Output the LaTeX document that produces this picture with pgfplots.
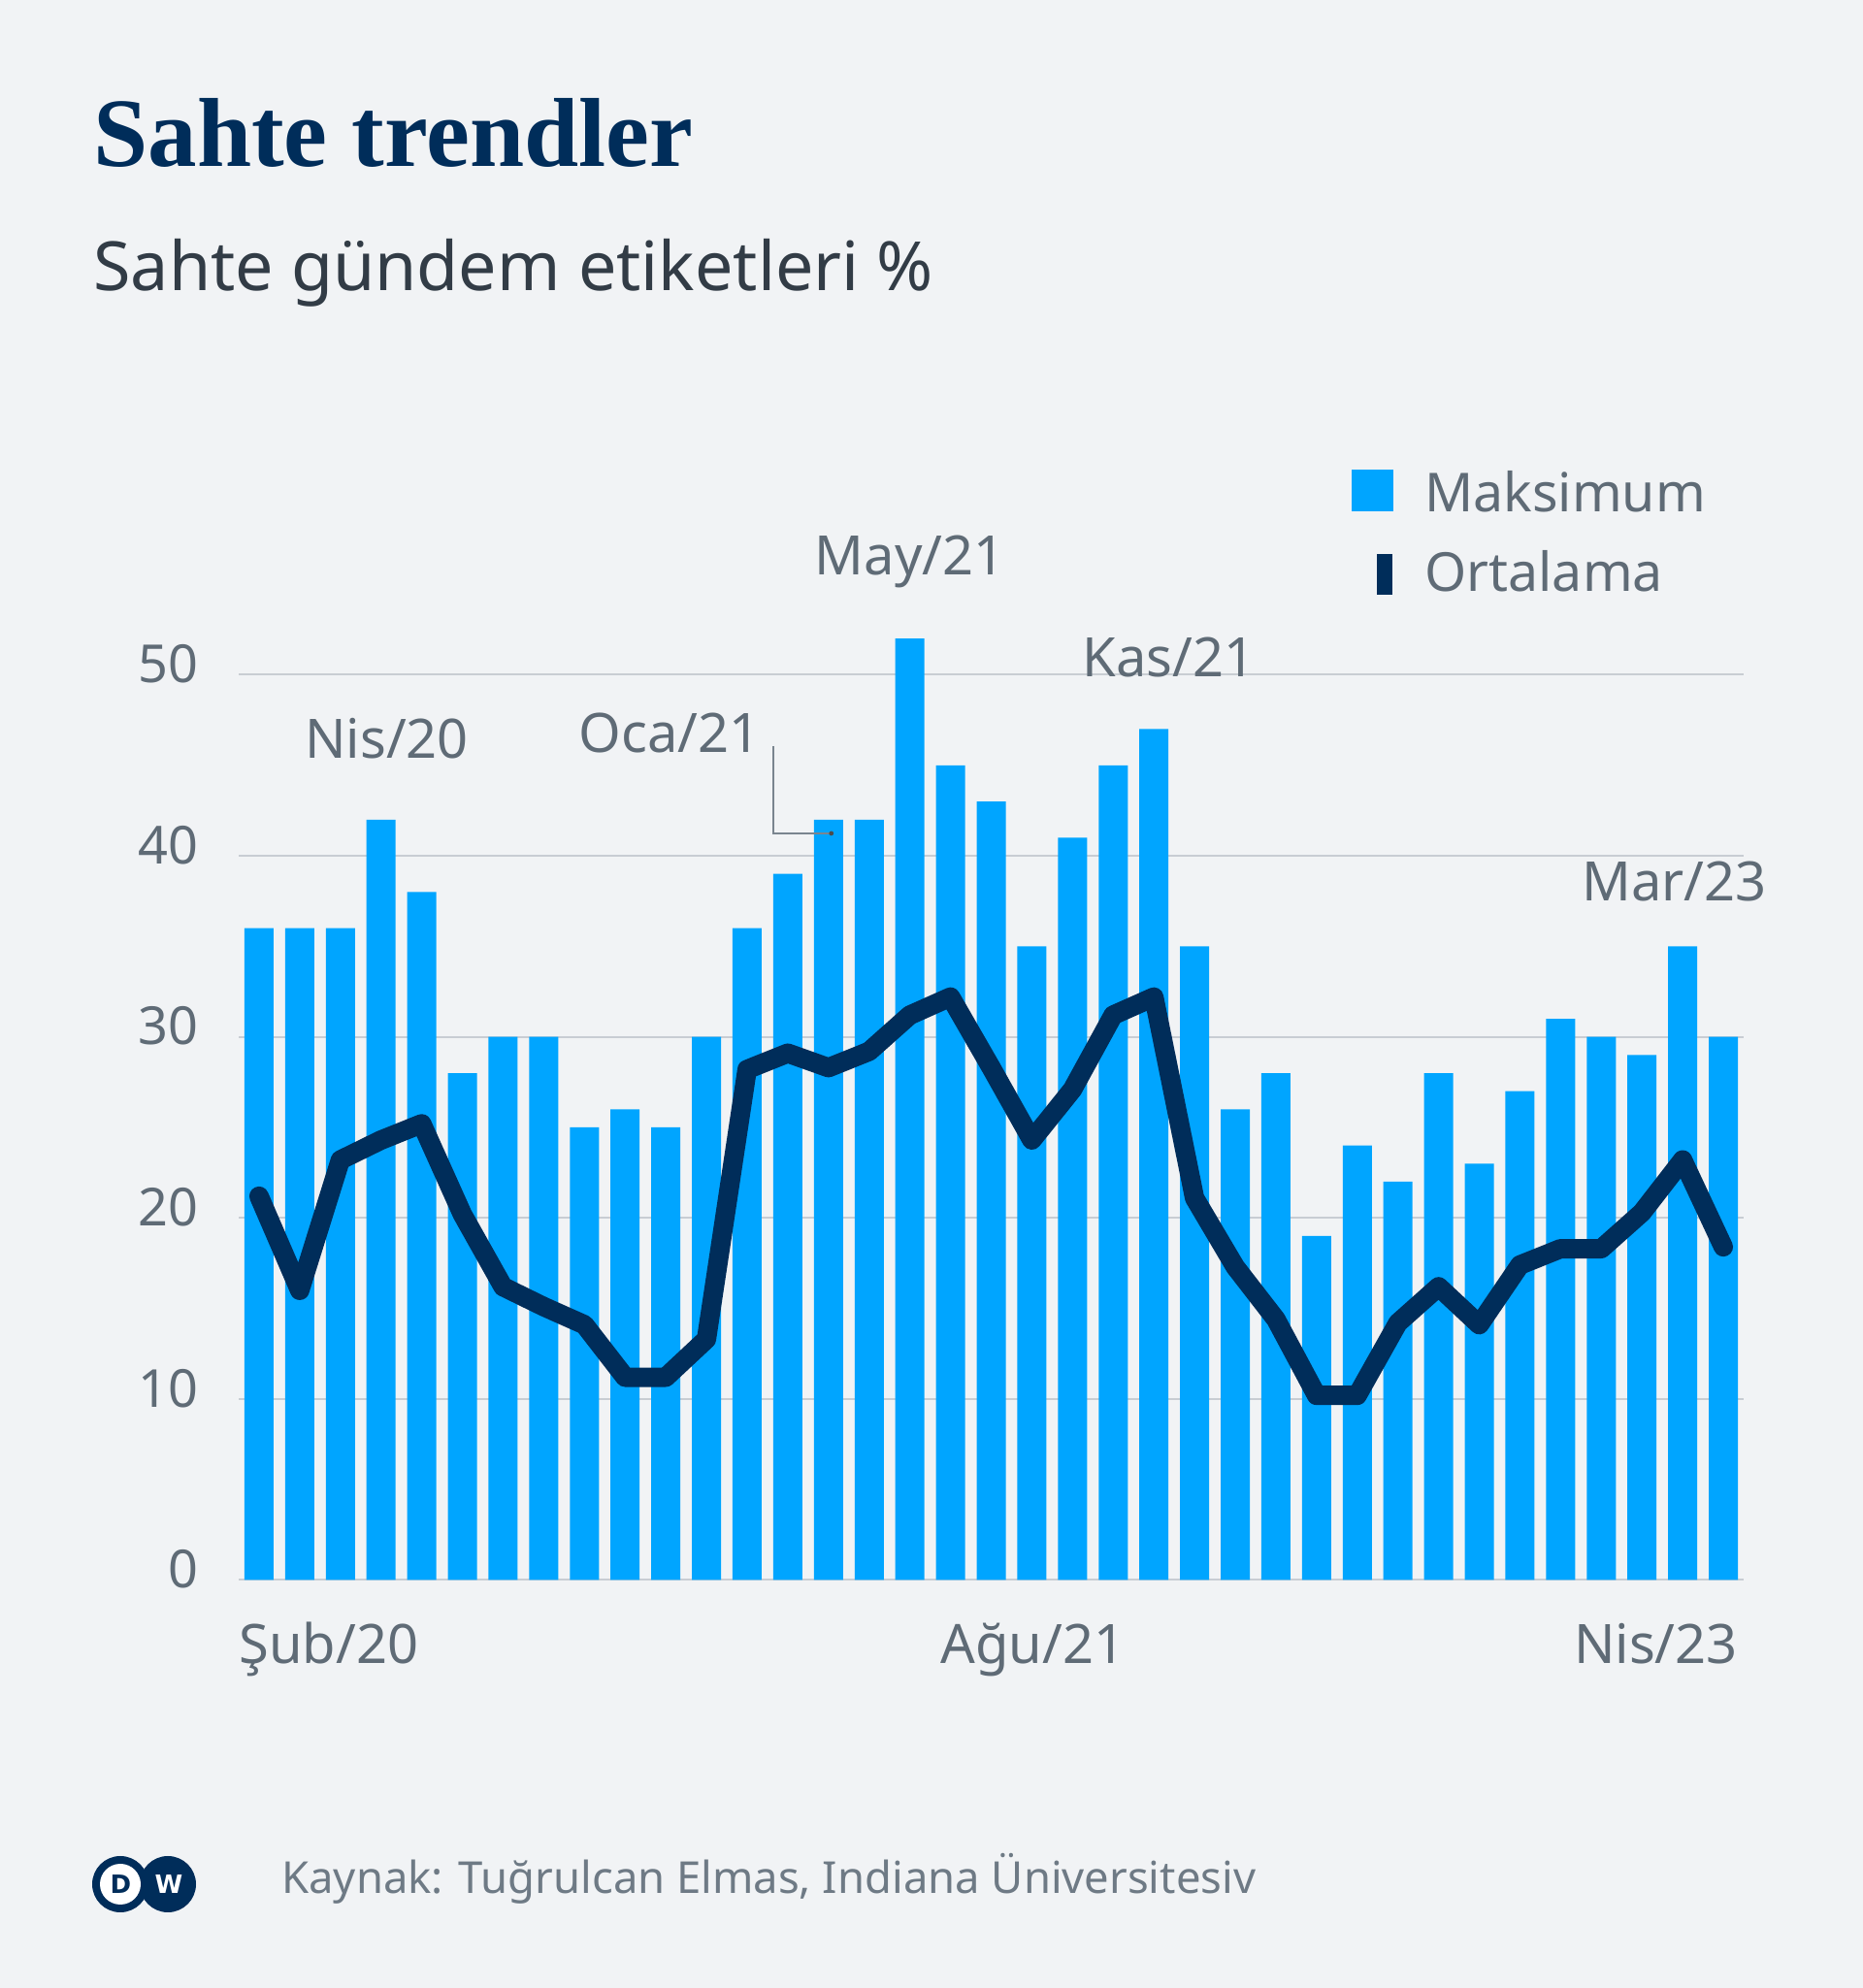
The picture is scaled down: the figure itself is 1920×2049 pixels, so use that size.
\documentclass[border=0pt]{standalone}
\usepackage{fontspec}
\setmainfont{Noto Sans}
\newfontfamily\titlefont{Liberation Serif}
\newfontfamily\logofont{DejaVu Sans}
\usepackage{pgfplots}
\usepackage{pgfplotstable}
\pgfplotsset{compat=1.18}

\definecolor{bg}{HTML}{F1F3F5}
\definecolor{navy}{HTML}{002D5A}
\definecolor{barblue}{HTML}{00A5FF}
\definecolor{textgrey}{HTML}{5F6B76}
\definecolor{subgrey}{HTML}{323C46}
\definecolor{gridgrey}{HTML}{C8CDD3}
\definecolor{srcgrey}{HTML}{6E7A85}
\definecolor{leadgrey}{HTML}{7A858F}

\pgfplotstableread{
x max avg
0 36 21.2
1 36 16.0
2 36 23.2
3 42 24.3
4 38 25.2
5 28 20.2
6 30 16.2
7 30 15.1
8 25 14.1
9 26 11.2
10 25 11.2
11 30 13.3
12 36 28.2
13 39 29.1
14 42 28.3
15 42 29.2
16 52 31.2
17 45 32.2
18 43 28.3
19 35 24.3
20 41 27.1
21 45 31.2
22 47 32.2
23 35 21.1
24 26 17.3
25 28 14.4
26 19 10.2
27 24 10.2
28 22 14.2
29 28 16.2
30 23 14.1
31 27 17.4
32 31 18.3
33 30 18.3
34 29 20.3
35 35 23.2
36 30 18.4
}\datatable

\begin{document}
\begin{tikzpicture}[x=0.5pt,y=0.5pt]
\fill[bg] (0,0) rectangle (1920,2049);
% title and subtitle
\node[anchor=base west, inner sep=0pt, text=navy, font=\titlefont\bfseries\fontsize{50.5}{60}\selectfont] at (96,1877) {Sahte trendler};
\node[anchor=base west, inner sep=0pt, text=subgrey, font=\fontsize{35}{42}\selectfont] at (96,1749) {Sahte gündem etiketleri \%};
% legend
\fill[barblue] (1393,1522) rectangle (1436,1565);
\node[anchor=base west, inner sep=0pt, text=textgrey, font=\fontsize{27.7}{34}\selectfont] at (1468,1521) {Maksimum};
\fill[navy] (1419,1436) rectangle (1435,1478);
\node[anchor=base west, inner sep=0pt, text=textgrey, font=\fontsize{27.7}{34}\selectfont] at (1468,1439) {Ortalama};

\begin{axis}[
  at={(123pt,210.25pt)}, anchor=south west,
  scale only axis, width=775.5pt, height=466.5pt,
  xmin=-0.5, xmax=36.5, ymin=0, ymax=50,
  clip=false,
  axis line style={draw=none},
  xtick=\empty,
  ytick={0,10,20,30,40,50},
  major tick length=0pt,
  ymajorgrids,
  grid style={gridgrey, line width=1pt},
  yticklabel style={anchor=east, inner sep=0pt, xshift=-20.5pt, yshift=5.5pt, text=textgrey, font=\fontsize{27}{30}\selectfont},
  /pgf/number format/assume math mode=true,
]
\addplot[ybar, bar width=15pt, fill=barblue, draw=none] table[x=x, y=max] {\datatable};
\addplot[navy, line width=10pt, line join=round, line cap=round] table[x=x, y=avg] {\datatable};
% annotations
\node[anchor=base, inner sep=0pt, text=textgrey, font=\fontsize{28}{34}\selectfont] at (3.14,45.4) {Nis/20};
\node[anchor=base, inner sep=0pt, text=textgrey, font=\fontsize{28}{34}\selectfont] at (10.09,45.7) {Oca/21};
\node[anchor=base, inner sep=0pt, text=textgrey, font=\fontsize{28}{34}\selectfont] at (16.0,55.5) {May/21};
\node[anchor=base, inner sep=0pt, text=textgrey, font=\fontsize{28}{34}\selectfont] at (22.36,49.9) {Kas/21};
\node[anchor=base, inner sep=0pt, text=textgrey, font=\fontsize{28}{34}\selectfont] at (34.79,37.5) {Mar/23};
\draw[leadgrey, line width=0.8pt] (12.64,46.07) -- (12.64,41.24) -- (14.07,41.24);
\fill[black!70] (14.07,41.24) circle (1.2pt);
% x labels
\node[anchor=base west, inner sep=0pt, text=textgrey, font=\fontsize{28}{34}\selectfont] at (-0.5,-4.6) {Şub/20};
\node[anchor=base, inner sep=0pt, text=textgrey, font=\fontsize{28}{34}\selectfont] at (19.02,-4.6) {Ağu/21};
\node[anchor=base east, inner sep=0pt, text=textgrey, font=\fontsize{28}{34}\selectfont] at (36.36,-4.6) {Nis/23};
\end{axis}

% footer
\fill[navy] (173,107) circle (29);
\fill[navy] (124,107) circle (29);
\fill[white] (124,107) circle (21);
\node[text=navy, inner sep=0pt, font=\logofont\bfseries\fontsize{13}{13}\selectfont] at (124.5,107) {D};
\node[text=white, inner sep=0pt, font=\logofont\bfseries\fontsize{13}{13}\selectfont] at (174,107) {W};
\node[anchor=base west, inner sep=0pt, text=srcgrey, font=\fontsize{22.7}{26}\selectfont] at (290,97) {Kaynak: Tuğrulcan Elmas, Indiana Üniversitesiv};
\end{tikzpicture}
\end{document}
